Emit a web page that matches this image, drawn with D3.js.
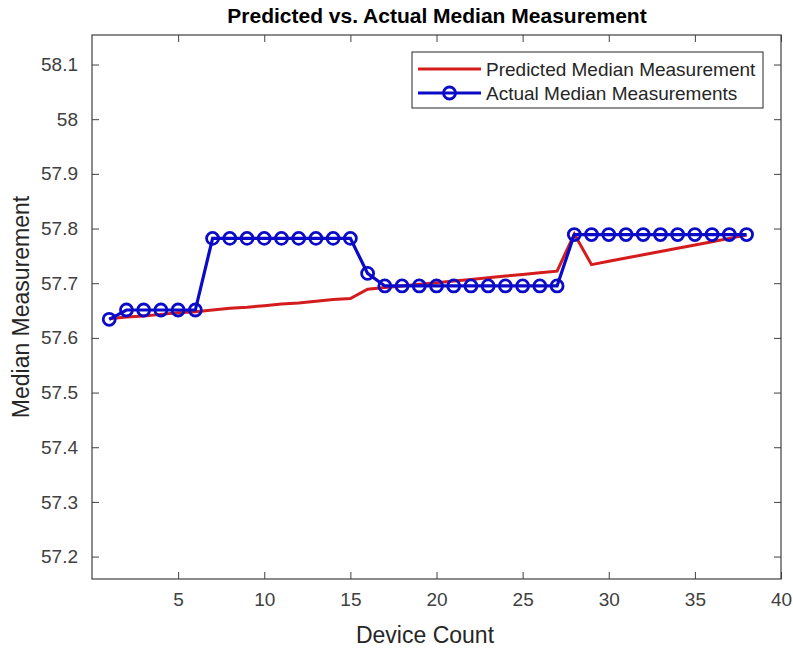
<!DOCTYPE html>
<html>
<head>
<meta charset="utf-8">
<script src="https://cdn.jsdelivr.net/npm/d3@7"></script>
<style>
  body { margin: 0; background: #fff; }
  svg { font-family: "Liberation Sans", Arial, Helvetica, sans-serif; }
</style>
</head>
<body>
<svg width="793" height="652"></svg>
<script>
// data
var deviceCount = d3.range(1, 39);
var predicted = [57.635, 57.638, 57.640, 57.643, 57.646, 57.648, 57.651, 57.654, 57.656, 57.659,
                 57.662, 57.664, 57.667, 57.670, 57.672, 57.689, 57.692, 57.695, 57.698, 57.701,
                 57.704, 57.707, 57.710, 57.713, 57.716, 57.719, 57.722, 57.790, 57.734, 57.740,
                 57.746, 57.752, 57.758, 57.764, 57.770, 57.776, 57.782, 57.788];
var actual = [57.634, 57.651, 57.651, 57.651, 57.651, 57.651, 57.782, 57.782, 57.782, 57.782,
              57.782, 57.782, 57.782, 57.782, 57.782, 57.718, 57.695, 57.695, 57.695, 57.695,
              57.695, 57.695, 57.695, 57.695, 57.695, 57.695, 57.695, 57.789, 57.789, 57.789,
              57.789, 57.789, 57.789, 57.789, 57.789, 57.789, 57.789, 57.789];
var xTicks = [5, 10, 15, 20, 25, 30, 35, 40];
var yTicks = [57.2, 57.3, 57.4, 57.5, 57.6, 57.7, 57.8, 57.9, 58, 58.1];
var seriesNames = ["Predicted Median Measurement", "Actual Median Measurements"];

var svg = d3.select("svg");
var plotL = 92, plotR = 781, plotT = 35, plotB = 579;
var axisColor = "#404040";
var red = "#d41c1c", blue = "#0a0ac8";

var x = d3.scaleLinear().domain([0, 40]).range([plotL, plotR]);
var y = d3.scaleLinear().domain([57.159, 58.154]).range([plotB, plotT]);

// axes box with ticks on all sides
var tl = 7;
svg.append("g").attr("transform", "translate(0," + plotB + ")")
    .call(d3.axisBottom(x).tickValues(xTicks).tickSizeInner(-tl).tickSizeOuter(0).tickPadding(14))
    .call(g => g.select(".domain").remove());
svg.append("g").attr("transform", "translate(0," + plotT + ")")
    .call(d3.axisTop(x).tickValues(xTicks).tickSizeInner(-tl).tickSizeOuter(0).tickFormat(""))
    .call(g => g.select(".domain").remove());
svg.append("g").attr("transform", "translate(" + plotL + ",0)")
    .call(d3.axisLeft(y).tickValues(yTicks).tickSizeInner(-tl).tickSizeOuter(0).tickPadding(14).tickFormat(d3.format("~g")))
    .call(g => g.select(".domain").remove());
svg.append("g").attr("transform", "translate(" + plotR + ",0)")
    .call(d3.axisRight(y).tickValues(yTicks).tickSizeInner(-tl).tickSizeOuter(0).tickFormat(""))
    .call(g => g.select(".domain").remove());

svg.selectAll(".tick line").attr("stroke", axisColor);
svg.selectAll(".tick text").attr("fill", axisColor).style("font-size", "19px");

svg.append("rect")
    .attr("x", plotL).attr("y", plotT)
    .attr("width", plotR - plotL).attr("height", plotB - plotT)
    .attr("fill", "none").attr("stroke", axisColor).attr("stroke-width", 1.2);

// lines
var line = d3.line().x((d, i) => x(deviceCount[i])).y(d => y(d));

svg.append("path").datum(predicted)
    .attr("d", line).attr("fill", "none")
    .attr("stroke", red).attr("stroke-width", 3);

svg.append("path").datum(actual)
    .attr("d", line).attr("fill", "none")
    .attr("stroke", blue).attr("stroke-width", 3.2);

svg.append("g").selectAll("circle").data(actual).enter()
    .append("circle")
    .attr("cx", (d, i) => x(deviceCount[i]))
    .attr("cy", d => y(d))
    .attr("r", 6)
    .attr("fill", "none").attr("stroke", blue).attr("stroke-width", 2.8);

// titles
svg.append("text")
    .attr("x", 437).attr("y", 23)
    .attr("text-anchor", "middle")
    .style("font-size", "21px").style("font-weight", "bold")
    .attr("fill", "#000")
    .text("Predicted vs. Actual Median Measurement");

svg.append("text")
    .attr("x", 425).attr("y", 643)
    .attr("text-anchor", "middle")
    .style("font-size", "23px")
    .attr("fill", "#262626")
    .text("Device Count");

svg.append("text")
    .attr("transform", "translate(29,307) rotate(-90)")
    .attr("text-anchor", "middle")
    .style("font-size", "23px")
    .attr("fill", "#262626")
    .text("Median Measurement");

// legend
var lg = svg.append("g");
lg.append("rect")
    .attr("x", 412).attr("y", 52).attr("width", 351).attr("height", 56)
    .attr("fill", "#fff").attr("stroke", "#262626").attr("stroke-width", 1);
var rows = [{ name: seriesNames[0], color: red, marker: false, yy: 69 },
            { name: seriesNames[1], color: blue, marker: true, yy: 93 }];
rows.forEach(function (r) {
    lg.append("line")
        .attr("x1", 418).attr("x2", 481).attr("y1", r.yy).attr("y2", r.yy)
        .attr("stroke", r.color).attr("stroke-width", 3);
    if (r.marker) {
        lg.append("circle").attr("cx", 449.5).attr("cy", r.yy).attr("r", 6)
            .attr("fill", "none").attr("stroke", r.color).attr("stroke-width", 2.8);
    }
    lg.append("text")
        .attr("x", 486).attr("y", r.yy + 6.5)
        .style("font-size", "19px").attr("fill", "#262626")
        .text(r.name);
});
</script>
</body>
</html>
